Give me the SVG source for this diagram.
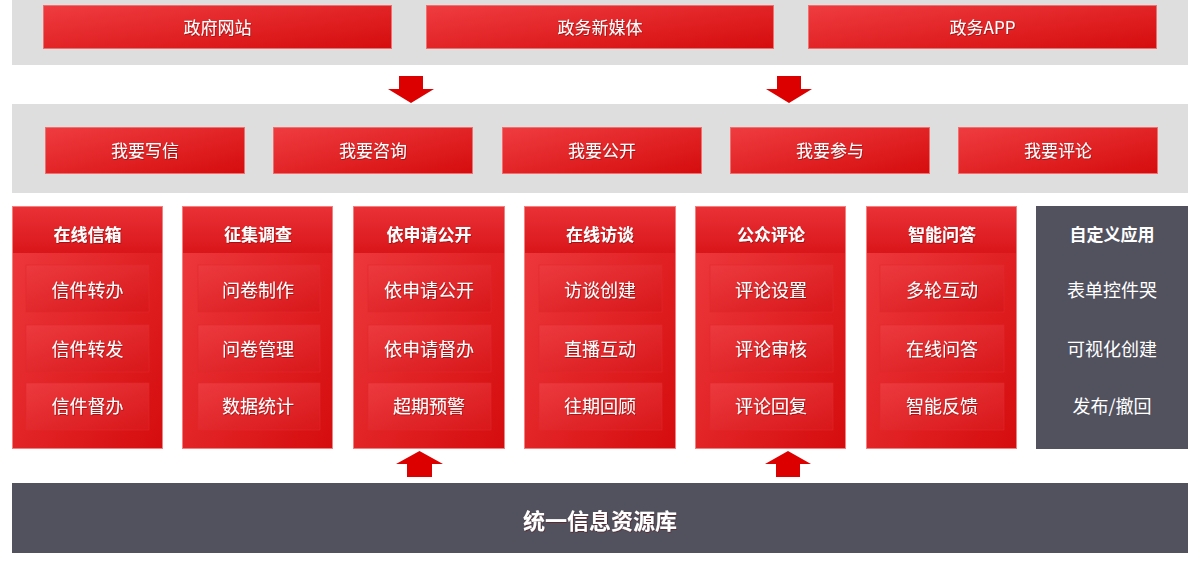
<svg xmlns="http://www.w3.org/2000/svg" width="1200" height="562" viewBox="0 0 1200 562">
<defs>
<linearGradient id="red" x1="0" y1="0" x2="1" y2="1">
<stop offset="0" stop-color="#ef3c40"/>
<stop offset="1" stop-color="#d50c0d"/>
</linearGradient>
<linearGradient id="hdr" x1="0" y1="0" x2="0" y2="1">
<stop offset="0" stop-color="#ea3136"/>
<stop offset="1" stop-color="#d9161a"/>
</linearGradient>
<linearGradient id="sub" x1="0" y1="0" x2="1" y2="1">
<stop offset="0" stop-color="#ec3a3e"/>
<stop offset="1" stop-color="#d8171a"/>
</linearGradient>
<filter id="ts" x="-20%" y="-50%" width="140%" height="200%">
<feDropShadow dx="0.6" dy="0.8" stdDeviation="0.6" flood-color="#600" flood-opacity="0.6"/>
</filter>
</defs>
<style>
text{font-family:"Noto Sans CJK SC","Noto Sans",sans-serif;fill:#fff;text-anchor:middle;dominant-baseline:central;transform:translateY(-1.5px)}
.t{font-size:17px}
.h{font-size:17px;font-weight:bold}
.s{font-size:18px}
.b{font-size:22px;font-weight:bold}
.band{fill:#dedede}
.btn{fill:url(#red);stroke:#f07070;stroke-width:1}
.col{fill:url(#red);stroke:#f58080;stroke-width:1}
.hd{fill:url(#hdr)}
.it{fill:url(#sub);stroke:#e2282c;stroke-width:0.6}
.dark{fill:#52525f}
.arr{fill:#dd0000}
</style>
<rect class="band" x="12" y="0" width="1176" height="65"/>
<rect class="band" x="12" y="104" width="1176" height="89"/>
<g id="src-web"><rect class="btn" x="43.5" y="5.5" width="348" height="43"/><text class="t" x="217.5" y="28" filter="url(#ts)">政府网站</text></g>
<g id="src-media"><rect class="btn" x="426.5" y="5.5" width="347" height="43"/><text class="t" x="600" y="28" filter="url(#ts)">政务新媒体</text></g>
<g id="src-app"><rect class="btn" x="808.5" y="5.5" width="348" height="43"/><text class="t" x="982.5" y="28" filter="url(#ts)">政务APP</text></g>
<g id="btn1"><rect class="btn" x="45.5" y="127.5" width="199" height="46"/><text class="t" x="145" y="151" filter="url(#ts)">我要写信</text></g>
<g id="btn2"><rect class="btn" x="273.5" y="127.5" width="199" height="46"/><text class="t" x="373" y="151" filter="url(#ts)">我要咨询</text></g>
<g id="btn3"><rect class="btn" x="502.5" y="127.5" width="199" height="46"/><text class="t" x="602" y="151" filter="url(#ts)">我要公开</text></g>
<g id="btn4"><rect class="btn" x="730.5" y="127.5" width="199" height="46"/><text class="t" x="830" y="151" filter="url(#ts)">我要参与</text></g>
<g id="btn5"><rect class="btn" x="958.5" y="127.5" width="199" height="46"/><text class="t" x="1058" y="151" filter="url(#ts)">我要评论</text></g>
<g id="col1"><rect class="col" x="12.5" y="206.5" width="150" height="242"/><rect class="hd" x="13" y="207" width="149" height="46"/>
<rect class="it" x="26" y="265" width="123" height="47"/><rect class="it" x="26" y="325" width="123" height="47"/><rect class="it" x="26" y="383" width="123" height="47"/>
<text class="h" x="87.5" y="235" filter="url(#ts)">在线信箱</text><text class="s" x="87.5" y="290" filter="url(#ts)">信件转办</text><text class="s" x="87.5" y="349" filter="url(#ts)">信件转发</text><text class="s" x="87.5" y="406" filter="url(#ts)">信件督办</text></g>
<g id="col2"><rect class="col" x="182.5" y="206.5" width="150" height="242"/><rect class="hd" x="183" y="207" width="149" height="46"/>
<rect class="it" x="198" y="265" width="122" height="47"/><rect class="it" x="198" y="325" width="122" height="47"/><rect class="it" x="198" y="383" width="122" height="47"/>
<text class="h" x="258" y="235" filter="url(#ts)">征集调查</text><text class="s" x="258" y="290" filter="url(#ts)">问卷制作</text><text class="s" x="258" y="349" filter="url(#ts)">问卷管理</text><text class="s" x="258" y="406" filter="url(#ts)">数据统计</text></g>
<g id="col3"><rect class="col" x="353.5" y="206.5" width="151" height="242"/><rect class="hd" x="354" y="207" width="150" height="46"/>
<rect class="it" x="368" y="265" width="123" height="47"/><rect class="it" x="368" y="325" width="123" height="47"/><rect class="it" x="368" y="383" width="123" height="47"/>
<text class="h" x="429" y="235" filter="url(#ts)">依申请公开</text><text class="s" x="429" y="290" filter="url(#ts)">依申请公开</text><text class="s" x="429" y="349" filter="url(#ts)">依申请督办</text><text class="s" x="429" y="406" filter="url(#ts)">超期预警</text></g>
<g id="col4"><rect class="col" x="524.5" y="206.5" width="151" height="242"/><rect class="hd" x="525" y="207" width="150" height="46"/>
<rect class="it" x="539" y="265" width="123" height="47"/><rect class="it" x="539" y="325" width="123" height="47"/><rect class="it" x="539" y="383" width="123" height="47"/>
<text class="h" x="600" y="235" filter="url(#ts)">在线访谈</text><text class="s" x="600" y="290" filter="url(#ts)">访谈创建</text><text class="s" x="600" y="349" filter="url(#ts)">直播互动</text><text class="s" x="600" y="406" filter="url(#ts)">往期回顾</text></g>
<g id="col5"><rect class="col" x="695.5" y="206.5" width="150" height="242"/><rect class="hd" x="696" y="207" width="149" height="46"/>
<rect class="it" x="710" y="265" width="123" height="47"/><rect class="it" x="710" y="325" width="123" height="47"/><rect class="it" x="710" y="383" width="123" height="47"/>
<text class="h" x="771" y="235" filter="url(#ts)">公众评论</text><text class="s" x="771" y="290" filter="url(#ts)">评论设置</text><text class="s" x="771" y="349" filter="url(#ts)">评论审核</text><text class="s" x="771" y="406" filter="url(#ts)">评论回复</text></g>
<g id="col6"><rect class="col" x="866.5" y="206.5" width="150" height="242"/><rect class="hd" x="867" y="207" width="149" height="46"/>
<rect class="it" x="880" y="265" width="124" height="47"/><rect class="it" x="880" y="325" width="124" height="47"/><rect class="it" x="880" y="383" width="124" height="47"/>
<text class="h" x="942" y="235" filter="url(#ts)">智能问答</text><text class="s" x="942" y="290" filter="url(#ts)">多轮互动</text><text class="s" x="942" y="349" filter="url(#ts)">在线问答</text><text class="s" x="942" y="406" filter="url(#ts)">智能反馈</text></g>
<g id="col7"><rect class="dark" x="1036" y="206" width="152" height="243"/>
<text class="h" x="1112" y="235">自定义应用</text><text class="s" x="1112" y="290">表单控件哭</text><text class="s" x="1112" y="349">可视化创建</text><text class="s" x="1112" y="406">发布/撤回</text></g>
<g id="base"><rect class="dark" x="12" y="483" width="1176" height="70"/><text class="b" x="600" y="520" filter="url(#ts)">统一信息资源库</text></g>
<g id="connectors">
<polygon class="arr" points="399,76 423,76 423,89 434,89 411,103 388,89 399,89"/>
<polygon class="arr" points="777,76 801,76 801,89 812,89 789,103 766,89 777,89"/>
<polygon class="arr" points="407,477 432,477 432,464 443,464 419.5,451 396,464 407,464"/>
<polygon class="arr" points="776,477 800,477 800,464 811,464 788,451 765,464 776,464"/>
</g>
</svg>
